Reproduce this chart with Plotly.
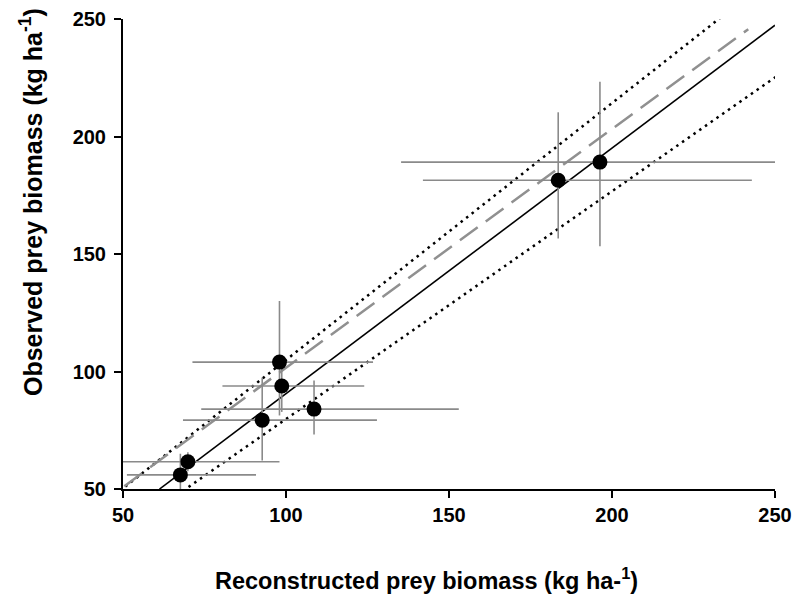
import numpy as np
import plotly.graph_objects as go

# Reconstructed vs observed prey biomass (kg/ha), one point per site/year
reconstructed = [98.0, 98.7, 108.6, 92.7, 69.9, 67.6, 183.5, 196.3]
observed = [104.0, 93.8, 84.0, 79.3, 61.6, 56.0, 181.4, 189.1]
recon_err_plus = [28.7, 25.3, 44.4, 35.2, 28.1, 23.2, 59.4, 61.0]
recon_err_minus = [26.7, 18.2, 34.6, 24.3, 24.0, 16.4, 41.5, 61.0]
obs_err_plus = [26.0, 11.0, 12.2, 18.1, 4.0, 9.0, 28.9, 34.2]
obs_err_minus = [22.7, 11.0, 10.8, 17.2, 4.0, 8.0, 24.8, 35.8]

# Fitted regression line and its confidence limits: (slope, intercept, x-start, x-end)
fit_line = (1.0455, -14.0, 61.2, 250.0)
upper_limit = (1.093, -4.4, 50.7, 233.1)
lower_limit = (0.969, -17.1, 70.1, 250.2)
# Regression forced through the origin
origin_fit = (1.016, 0.0, 50.4, 241.8)

axis_ticks = [50, 100, 150, 200, 250]

FONT = "Liberation Sans, Arial, sans-serif"


def line_xy(params):
    slope, intercept, x0, x1 = params
    xs = np.linspace(x0, x1, 50)
    return xs, slope * xs + intercept


fig = go.Figure()

for params, style in [
    (upper_limit, dict(color="black", width=2.5, dash="2.5px,4.5px")),
    (lower_limit, dict(color="black", width=2.5, dash="2.5px,4.5px")),
    (origin_fit, dict(color="#909090", width=2.5, dash="22px,10px")),
    (fit_line, dict(color="black", width=1.6)),
]:
    xs, ys = line_xy(params)
    fig.add_trace(go.Scatter(x=xs, y=ys, mode="lines", line=style,
                             hoverinfo="skip", showlegend=False))

fig.add_trace(go.Scatter(
    x=reconstructed, y=observed, mode="markers",
    marker=dict(color="black", size=15, line=dict(width=0)),
    error_x=dict(type="data", symmetric=False, array=recon_err_plus,
                 arrayminus=recon_err_minus, color="#8a8a8a", thickness=1.6, width=0),
    error_y=dict(type="data", symmetric=False, array=obs_err_plus,
                 arrayminus=obs_err_minus, color="#8a8a8a", thickness=1.6, width=0),
    showlegend=False,
))

axis_common = dict(
    range=[50, 250], tickvals=axis_ticks, ticks="outside", ticklen=7,
    tickwidth=2, tickcolor="black", showline=True, linewidth=2, linecolor="black",
    showgrid=False, zeroline=False, mirror=False, automargin=False,
    tickfont=dict(family=FONT, size=20, color="black", weight="bold"),
)

fig.update_layout(
    width=793, height=595,
    margin=dict(l=123, r=18, t=19, b=106),
    plot_bgcolor="white", paper_bgcolor="white",
    xaxis=dict(**axis_common),
    yaxis=dict(**axis_common, ticklabelstandoff=4),
    annotations=[
        dict(text="Reconstructed prey biomass (kg ha-<sup>1</sup>)",
             xref="paper", yref="paper", x=0.465, y=-0.192,
             xanchor="center", yanchor="middle", showarrow=False,
             font=dict(family=FONT, size=23.5, color="black", weight="bold")),
        dict(text="Observed prey biomass (kg ha<sup>-1</sup>)",
             xref="paper", yref="paper", x=-0.14, y=0.61,
             xanchor="center", yanchor="middle", showarrow=False, textangle=-90,
             font=dict(family=FONT, size=25, color="black", weight="bold")),
    ],
)

fig.write_html("out.html")
